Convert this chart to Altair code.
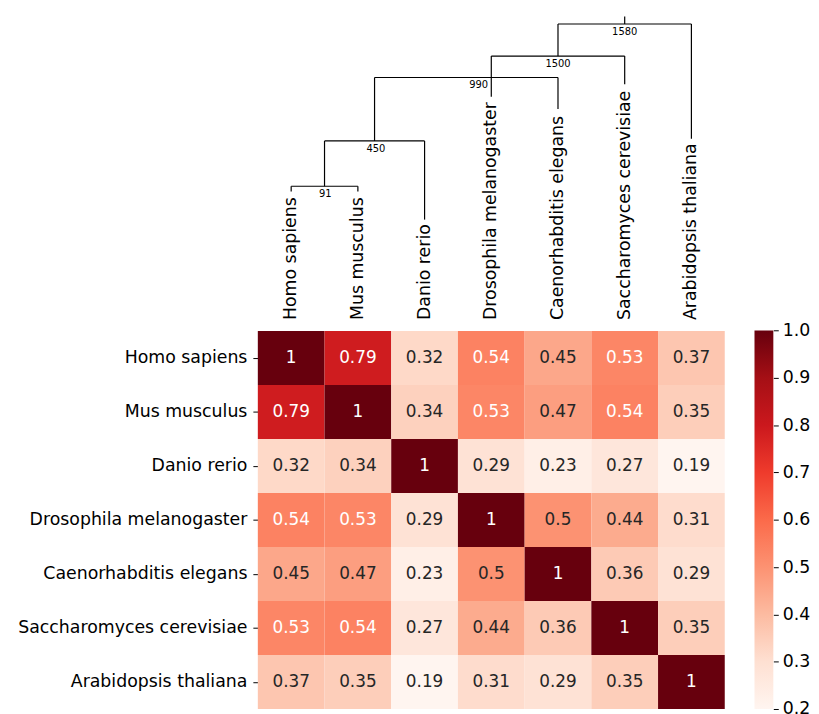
import altair as alt
import pandas as pd

species = ["Homo sapiens", "Mus musculus", "Danio rerio", "Drosophila melanogaster",
           "Caenorhabditis elegans", "Saccharomyces cerevisiae", "Arabidopsis thaliana"]

matrix = [
    [1, 0.79, 0.32, 0.54, 0.45, 0.53, 0.37],
    [0.79, 1, 0.34, 0.53, 0.47, 0.54, 0.35],
    [0.32, 0.34, 1, 0.29, 0.23, 0.27, 0.19],
    [0.54, 0.53, 0.29, 1, 0.5, 0.44, 0.31],
    [0.45, 0.47, 0.23, 0.5, 1, 0.36, 0.29],
    [0.53, 0.54, 0.27, 0.44, 0.36, 1, 0.35],
    [0.37, 0.35, 0.19, 0.31, 0.29, 0.35, 1],
]

reds = ["#fff5f0", "#fee0d2", "#fcbba1", "#fc9272", "#fb6a4a",
        "#ef3b2c", "#cb181d", "#a50f15", "#67000d"]
color_stops = [0.2, 0.3, 0.4, 0.5, 0.6, 0.7, 0.8, 0.9, 1.0]
cbar_ticks = [0.2, 0.3, 0.4, 0.5, 0.6, 0.7, 0.8, 0.9, 1.0]

# dendrogram segments (x in column index, y in cell heights above heatmap top)
seg_x  = [0, 1, 0, 0.5, 2, 0.5, 1.25, 4, 1.25, 3, 5, 3, 4, 6, 4, 5]
seg_x2 = [0, 1, 1, 0.5, 2, 2, 1.25, 4, 4, 3, 5, 5, 4, 6, 6, 5]
seg_y  = [2.582, 2.582, 2.679, 2.679, 2.061, 3.517, 3.517, 4.110, 4.692, 4.336, 4.569, 5.088, 5.088, 3.560, 5.683, 5.683]
seg_y2 = [2.679, 2.679, 2.679, 3.517, 3.517, 3.517, 4.692, 4.692, 4.692, 5.088, 5.088, 5.088, 5.683, 5.683, 5.683, 5.822]

node_labels = ["91", "450", "990", "1500", "1580"]
node_label_x = [0.51, 1.27, 2.81, 4.0, 5.0]
node_label_y = [2.679, 3.517, 4.692, 5.088, 5.683]

FONT = "DejaVu Sans"
n = len(species)

cells = pd.DataFrame([
    {"x": c - 0.5, "x2": c + 0.5, "y": -r, "y2": -r - 1, "xc": c, "yc": -r - 0.5,
     "value": matrix[r][c]}
    for r in range(n) for c in range(n)
])
segs = pd.DataFrame({"x": seg_x, "x2": seg_x2, "y": seg_y, "y2": seg_y2})
nodes = pd.DataFrame({"xc": node_label_x, "yc": node_label_y, "label": node_labels})
cols = pd.DataFrame({"xc": list(range(n)), "yc": [0] * n, "name": species})

xscale = alt.Scale(domain=[-0.5, n - 0.5], nice=False, zero=False)
yscale = alt.Scale(domain=[-n, 5.83], nice=False, zero=False)
names_js = "[" + ",".join("'" + s + "'" for s in species) + "]"
yaxis = alt.Axis(values=[-r - 0.5 for r in range(n)],
                 labelExpr=names_js + "[round(-datum.value - 0.5)]",
                 title=None, grid=False, domain=False, tickSize=5, tickColor="black",
                 labelPadding=6, labelFontSize=17.5, labelFont=FONT, labelColor="black",
                 labelOverlap=False, labelLimit=500)

def X(f):
    return alt.X(f + ":Q", scale=xscale, axis=None)

def Y(f):
    return alt.Y(f + ":Q", scale=yscale, axis=yaxis)

heat = alt.Chart(cells).mark_rect().encode(
    x=X("x"), x2="x2", y=Y("y"), y2="y2",
    color=alt.Color("value:Q", scale=alt.Scale(domain=color_stops, range=reds,
                                               interpolate="rgb", clamp=True), legend=None),
)

annot = alt.Chart(cells).mark_text(fontSize=17, font=FONT).encode(
    x=X("xc"), y=Y("yc"),
    text=alt.Text("value:Q", format=".2~f"),
    color=alt.condition(alt.datum.value > 0.52, alt.value("white"), alt.value("#262626")),
)

dendro = alt.Chart(segs).mark_rule(color="black", strokeWidth=1.2).encode(
    x=X("x"), x2="x2", y=Y("y"), y2="y2",
)

node_text = alt.Chart(nodes).mark_text(fontSize=10, font=FONT, baseline="top", dy=3,
                                       color="black").encode(
    x=X("xc"), y=Y("yc"), text="label:N",
)

col_text = alt.Chart(cols).mark_text(fontSize=17.5, font=FONT, angle=270, align="left",
                                     baseline="middle", dx=11, color="black").encode(
    x=X("xc"), y=Y("yc"), text="name:N",
)

main = alt.layer(heat, annot, dendro, node_text, col_text).properties(width=471, height=699)

# colorbar
grad = alt.LinearGradient(
    gradient="linear",
    stops=[alt.GradientStop(color=c, offset=(s - 0.2) / 0.8) for c, s in zip(reds, color_stops)],
    x1=0, x2=0, y1=1, y2=0,
)
cbar_df = pd.DataFrame({"lo": [0.2], "hi": [1.0]})
cbar = alt.Chart(cbar_df).mark_rect(fill=grad).encode(
    y=alt.Y("lo:Q", scale=alt.Scale(domain=[0.2, 1.665], nice=False, zero=False),
            axis=alt.Axis(orient="right", values=cbar_ticks, format=".1f", title=None,
                          grid=False, domain=False, tickSize=5, tickColor="black",
                          labelPadding=4, labelFontSize=17.5, labelFont=FONT,
                          labelColor="black", labelOverlap=False)),
    y2="hi:Q",
).properties(width=19, height=699)

chart = alt.hconcat(main, cbar, spacing=30).properties(
    padding={"left": 9, "top": 4, "right": 1, "bottom": 0}
).configure_view(stroke=None)

chart.save("out.html", embed_options={"renderer": "svg", "actions": False})
